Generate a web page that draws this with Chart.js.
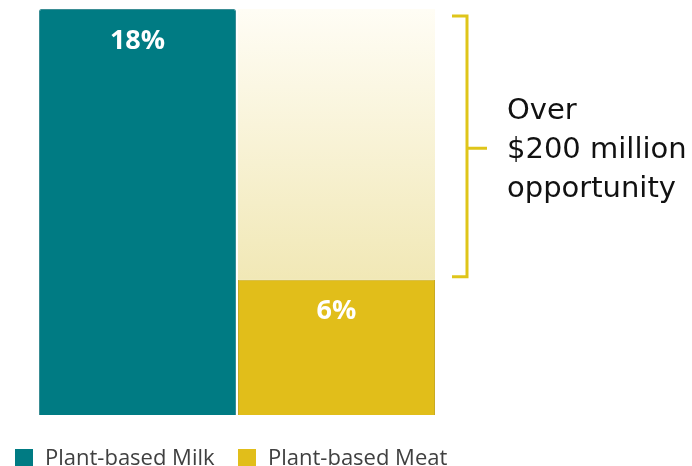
<!DOCTYPE html>
<html>
<head>
<meta charset="utf-8">
<script src="https://cdn.jsdelivr.net/npm/chart.js@4/dist/chart.umd.min.js"></script>
<style>
  body { margin: 0; background: #fff; }
  #wrap { position: relative; width: 692px; height: 466px; overflow: hidden; }
  .item { position: absolute; top: 441px; font-family: "Open Sans", sans-serif; font-size: 22px; color: #404040; white-space: nowrap; }
  .box { display: inline-block; width: 18px; height: 18px; vertical-align: -2px; margin-right: 12px; }
</style>
</head>
<body>
<div id="wrap">
  <canvas id="myChart" width="692" height="466"></canvas>
</div>
<script>
// chart data
var categories = ["Plant-based Milk", "Plant-based Meat"];
var milkShare = [18, null];
var meatShare = [null, 6];
var gapToMilk = [null, 12];
var opportunityText = ["Over", "$200 million", "opportunity"];

var teal = "#007b83";
var yellow = "#e1be1a";

// gradient for the "opportunity" gap bar
function gapFill(context) {
  var area = context.chart.chartArea;
  if (!area) return "#f6efcc";
  var y = context.chart.scales.y;
  var g = context.chart.ctx.createLinearGradient(0, y.getPixelForValue(18), 0, y.getPixelForValue(6));
  g.addColorStop(0, "#fffdf5");
  g.addColorStop(1, "#f1e8b6");
  return g;
}

// labels inside bars + bracket with text
var extras = {
  id: "extras",
  afterDatasetsDraw: function (chart) {
    var ctx = chart.ctx;
    var y = chart.scales.y;
    var x = chart.scales.x;
    ctx.save();
    ctx.fillStyle = "#fff";
    ctx.font = "bold 27px 'Open Sans', sans-serif";
    ctx.textAlign = "center";
    ctx.textBaseline = "middle";
    ctx.fillText(milkShare[0] + "%", x.getPixelForValue(0), y.getPixelForValue(milkShare[0]) + 32);
    ctx.fillText(meatShare[1] + "%", x.getPixelForValue(1), y.getPixelForValue(meatShare[1]) + 32);

    // bracket
    var top = y.getPixelForValue(18) + 7;
    var bottom = y.getPixelForValue(6) - 3;
    var bx = 467;
    var mid = (top + bottom) / 2 + 2;
    ctx.strokeStyle = "#dfc51a";
    ctx.lineWidth = 3;
    ctx.beginPath();
    ctx.moveTo(452, top);
    ctx.lineTo(bx, top);
    ctx.lineTo(bx, bottom);
    ctx.lineTo(452, bottom);
    ctx.moveTo(bx, mid);
    ctx.lineTo(487, mid);
    ctx.stroke();

    ctx.fillStyle = "#111";
    ctx.font = "29px 'DejaVu Sans', sans-serif";
    ctx.textAlign = "left";
    opportunityText.forEach(function (t, i) {
      ctx.fillText(t, 507, mid - 37 + i * 39);
    });
    ctx.restore();
  }
};

var ctx = document.getElementById("myChart").getContext("2d");
var chart = new Chart(ctx, {
  type: "bar",
  data: {
    labels: categories,
    datasets: [
      { label: categories[0], data: milkShare, backgroundColor: teal, borderColor: "#3b8e95", borderWidth: 1, borderRadius: 2, borderSkipped: "bottom" },
      { label: categories[1], data: meatShare, backgroundColor: yellow, borderColor: "#c9aa22", borderWidth: 1, borderRadius: 2, borderSkipped: "bottom" },
      { label: "gap", data: gapToMilk, backgroundColor: gapFill, borderWidth: 0 }
    ]
  },
  options: {
    responsive: false,
    animation: false,
    layout: { padding: { left: 38, right: 256, top: 9, bottom: 51 } },
    datasets: { bar: { categoryPercentage: 1, barPercentage: 0.99 } },
    scales: {
      x: { stacked: true, display: false },
      y: { stacked: true, display: false, min: 0, max: 18 }
    },
    plugins: { legend: { display: false }, tooltip: { enabled: false } }
  },
  plugins: [extras]
});

// legend
var wrap = document.getElementById("wrap");
var legendLeft = [15, 238];
categories.forEach(function (c, i) {
  var el = document.createElement("div");
  el.className = "item";
  el.style.left = legendLeft[i] + "px";
  el.innerHTML = '<span class="box" style="background:' + (i === 0 ? teal : yellow) + '"></span>' + c;
  wrap.appendChild(el);
});
</script>
</body>
</html>
